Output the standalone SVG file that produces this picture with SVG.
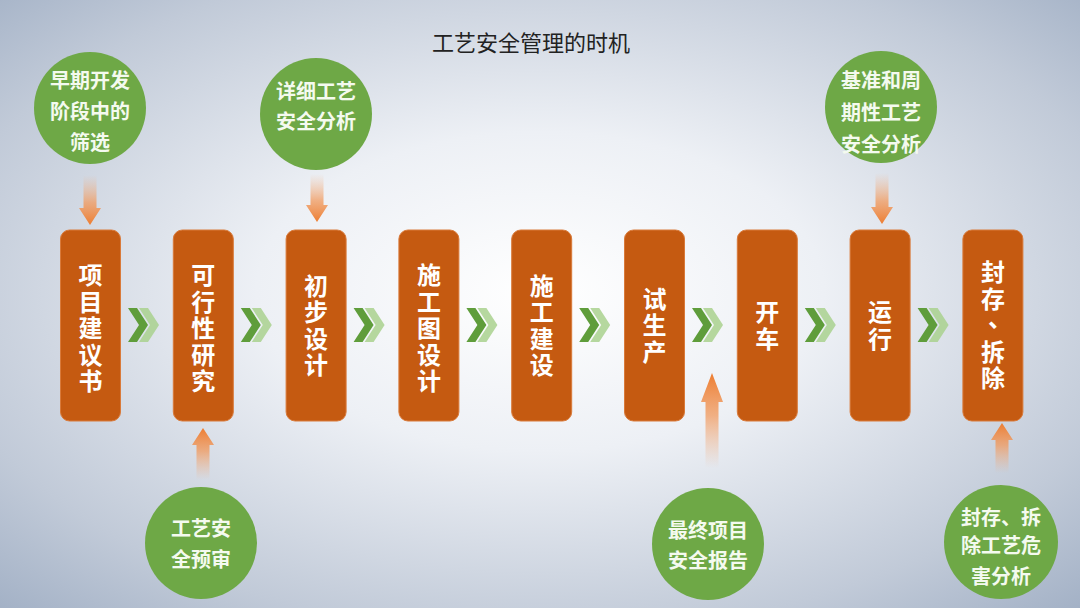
<svg xmlns="http://www.w3.org/2000/svg" width="1080" height="608" viewBox="0 0 1080 608">
<defs>
<radialGradient id="bg" cx="50%" cy="48%" r="75%">
<stop offset="0" stop-color="#ffffff"/>
<stop offset="0.35" stop-color="#edf0f5"/>
<stop offset="0.75" stop-color="#c1cad8"/>
<stop offset="1" stop-color="#9eadc3"/>
</radialGradient>
<linearGradient id="gDown" x1="0" y1="0" x2="0" y2="1">
<stop offset="0" stop-color="#f4b183" stop-opacity="0"/>
<stop offset="0.55" stop-color="#f19a5e" stop-opacity="0.75"/>
<stop offset="1" stop-color="#ed7d31"/>
</linearGradient>
<linearGradient id="gUp" x1="0" y1="1" x2="0" y2="0">
<stop offset="0" stop-color="#f4b183" stop-opacity="0"/>
<stop offset="0.55" stop-color="#f19a5e" stop-opacity="0.75"/>
<stop offset="1" stop-color="#ed7d31"/>
</linearGradient>
<g id="chev">
<polygon points="11,-17 20,-17 31,0 20,17 11,17 22,0" fill="#a9d18e" opacity="0.85"/>
<polygon points="0,-17 9,-17 20,0 9,17 0,17 11,0" fill="#5f9d3b"/>
</g>
</defs>
<style>
.box{fill:#c55a11;stroke:#d97a3a;stroke-width:1}
.bt{font-family:"Noto Sans CJK SC","Noto Sans",sans-serif;font-weight:bold;font-size:24px;fill:#ffffff;text-anchor:middle}
.circ{fill:#6ea846}
.ct{font-family:"Noto Sans CJK SC","Noto Sans",sans-serif;font-weight:bold;font-size:20px;fill:#f4faef;text-anchor:middle}
.title{font-family:"Noto Sans CJK SC","Noto Sans",sans-serif;font-size:22px;fill:#222222;text-anchor:middle}
</style>
<rect width="1080" height="608" fill="url(#bg)"/>
<text class="title" x="531" y="51">工艺安全管理的时机</text>

<g id="connectors">
<use href="#chev" x="128" y="325"/>
<use href="#chev" x="240.8" y="325"/>
<use href="#chev" x="353.6" y="325"/>
<use href="#chev" x="466.4" y="325"/>
<use href="#chev" x="579.2" y="325"/>
<use href="#chev" x="692" y="325"/>
<use href="#chev" x="804.8" y="325"/>
<use href="#chev" x="917.6" y="325"/>
<path d="M83.5,175 L96.5,175 L96.5,208 L101,208 L90,225 L79,208 L83.5,208 Z" fill="url(#gDown)"/>
<path d="M310.5,174 L323.5,174 L323.5,205 L328,205 L317,222 L306,205 L310.5,205 Z" fill="url(#gDown)"/>
<path d="M875.5,173 L888.5,173 L888.5,207 L893,207 L882,224 L871,207 L875.5,207 Z" fill="url(#gDown)"/>
<path d="M196.5,480 L209.5,480 L209.5,445 L214,445 L203,428 L192,445 L196.5,445 Z" fill="url(#gUp)"/>
<path d="M705.5,468 L718.5,468 L718.5,402 L723,402 L712,373 L701,402 L705.5,402 Z" fill="url(#gUp)"/>
<path d="M995.5,473 L1008.5,473 L1008.5,440 L1013,440 L1002,423 L991,440 L995.5,440 Z" fill="url(#gUp)"/>
</g>

<g id="n1"><rect class="box" x="60.5" y="230" width="60" height="191" rx="9"/>
<text class="bt"><tspan x="90.5" y="284">项</tspan><tspan x="90.5" y="310.5">目</tspan><tspan x="90.5" y="337">建</tspan><tspan x="90.5" y="363.5">议</tspan><tspan x="90.5" y="390">书</tspan></text></g>
<g id="n2"><rect class="box" x="173.3" y="230" width="60" height="191" rx="9"/>
<text class="bt"><tspan x="203.3" y="284">可</tspan><tspan x="203.3" y="310.5">行</tspan><tspan x="203.3" y="337">性</tspan><tspan x="203.3" y="363.5">研</tspan><tspan x="203.3" y="390">究</tspan></text></g>
<g id="n3"><rect class="box" x="286.1" y="230" width="60" height="191" rx="9"/>
<text class="bt"><tspan x="316.1" y="294.5">初</tspan><tspan x="316.1" y="321">步</tspan><tspan x="316.1" y="347.5">设</tspan><tspan x="316.1" y="374">计</tspan></text></g>
<g id="n4"><rect class="box" x="398.9" y="230" width="60" height="191" rx="9"/>
<text class="bt"><tspan x="428.9" y="284">施</tspan><tspan x="428.9" y="310.5">工</tspan><tspan x="428.9" y="337">图</tspan><tspan x="428.9" y="363.5">设</tspan><tspan x="428.9" y="390">计</tspan></text></g>
<g id="n5"><rect class="box" x="511.7" y="230" width="60" height="191" rx="9"/>
<text class="bt"><tspan x="541.7" y="294.5">施</tspan><tspan x="541.7" y="321">工</tspan><tspan x="541.7" y="347.5">建</tspan><tspan x="541.7" y="374">设</tspan></text></g>
<g id="n6"><rect class="box" x="624.5" y="230" width="60" height="191" rx="9"/>
<text class="bt"><tspan x="654.5" y="307.5">试</tspan><tspan x="654.5" y="334">生</tspan><tspan x="654.5" y="360.5">产</tspan></text></g>
<g id="n7"><rect class="box" x="737.3" y="230" width="60" height="191" rx="9"/>
<text class="bt"><tspan x="767.3" y="320.5">开</tspan><tspan x="767.3" y="347.5">车</tspan></text></g>
<g id="n8"><rect class="box" x="850.1" y="230" width="60" height="191" rx="9"/>
<text class="bt"><tspan x="880.1" y="320.5">运</tspan><tspan x="880.1" y="347.5">行</tspan></text></g>
<g id="n9"><rect class="box" x="962.9" y="230" width="60" height="191" rx="9"/>
<text class="bt"><tspan x="992.9" y="281">封</tspan><tspan x="992.9" y="307.5">存</tspan><tspan x="1000" y="327">、</tspan><tspan x="992.9" y="360.5">拆</tspan><tspan x="992.9" y="387">除</tspan></text></g>

<g id="c1"><circle class="circ" cx="90" cy="108" r="56"/>
<text class="ct"><tspan x="90" y="87.5">早期开发</tspan><tspan x="90" y="119">阶段中的</tspan><tspan x="90" y="150">筛选</tspan></text></g>
<g id="c2"><circle class="circ" cx="316" cy="114" r="56"/>
<text class="ct"><tspan x="316" y="99">详细工艺</tspan><tspan x="316" y="129">安全分析</tspan></text></g>
<g id="c3"><circle class="circ" cx="881" cy="107" r="56"/>
<text class="ct"><tspan x="881" y="87.5">基准和周</tspan><tspan x="881" y="120">期性工艺</tspan><tspan x="881" y="152">安全分析</tspan></text></g>
<g id="c4"><circle class="circ" cx="201" cy="543" r="56"/>
<text class="ct"><tspan x="201" y="535.5">工艺安</tspan><tspan x="201" y="567">全预审</tspan></text></g>
<g id="c5"><circle class="circ" cx="708" cy="544" r="56"/>
<text class="ct"><tspan x="708" y="537.5">最终项目</tspan><tspan x="708" y="567.5">安全报告</tspan></text></g>
<g id="c6"><circle class="circ" cx="1001" cy="542" r="57"/>
<text class="ct"><tspan x="1001" y="524.5">封存、拆</tspan><tspan x="1001" y="553">除工艺危</tspan><tspan x="1001" y="584">害分析</tspan></text></g>
</svg>
